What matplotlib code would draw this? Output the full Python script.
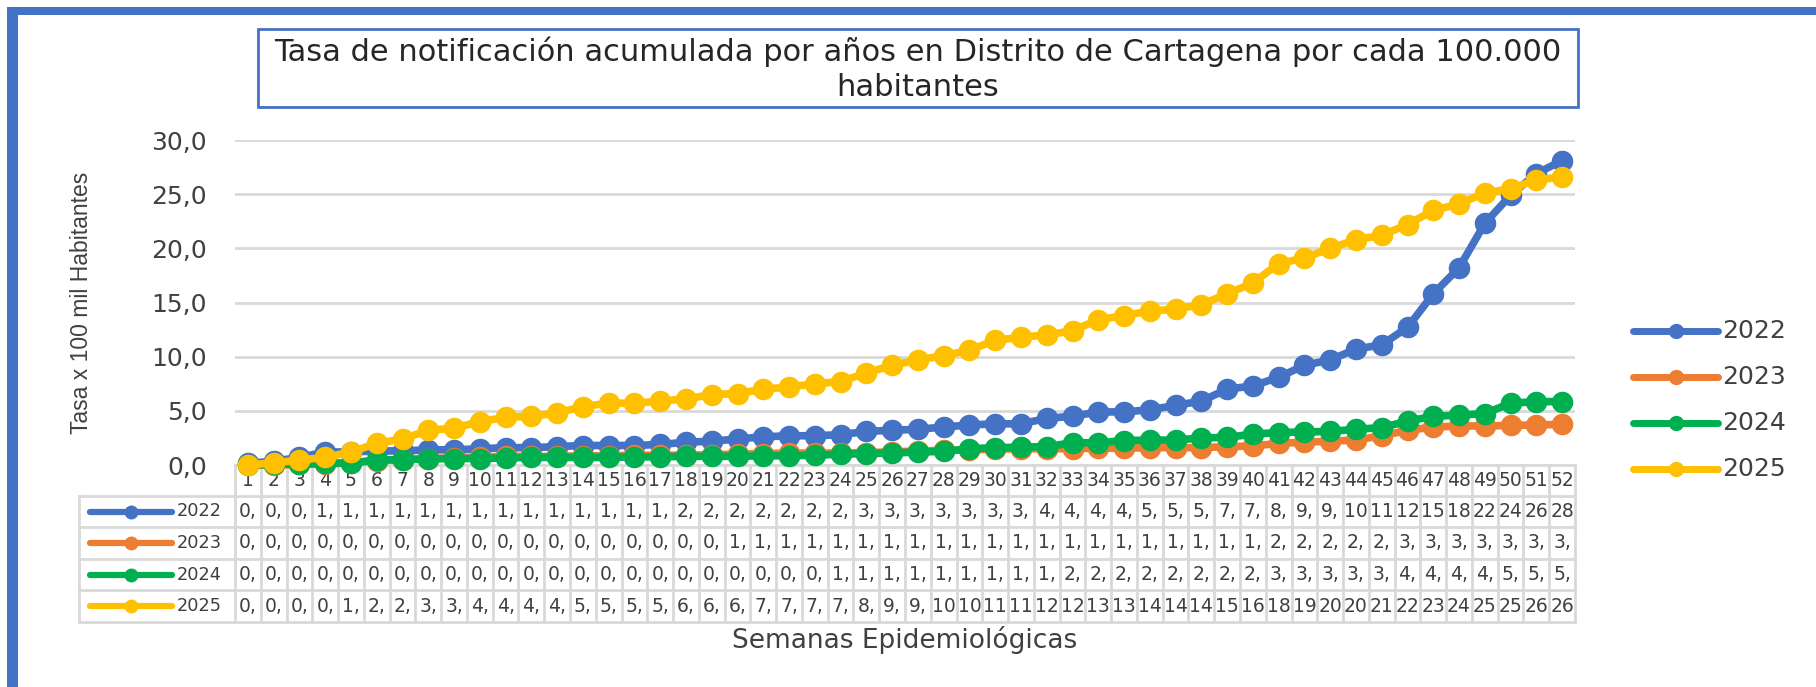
import matplotlib
matplotlib.use("Agg")
import matplotlib.pyplot as plt
import matplotlib.transforms as mtransforms
from matplotlib.lines import Line2D
from matplotlib.patches import Rectangle

# Datos: tasa acumulada x 100.000 hab. por semana epidemiológica
semanas = list(range(1, 53))
anios = ["2022", "2023", "2024", "2025"]
colores = ["#4472C4", "#ED7D31", "#00B050", "#FFC000"]

tasa_2022 = [0.15, 0.35, 0.7, 1.2, 1.2, 1.3, 1.3, 1.4, 1.4, 1.5, 1.6, 1.6, 1.7, 1.8, 1.8, 1.8,
             1.9, 2.1, 2.2, 2.4, 2.6, 2.7, 2.7, 2.8, 3.1, 3.2, 3.3, 3.5, 3.7, 3.8, 3.8, 4.3,
             4.5, 4.9, 4.9, 5.1, 5.5, 5.9, 7.0, 7.3, 8.1, 9.2, 9.7, 10.7, 11.1, 12.7, 15.8,
             18.2, 22.3, 24.9, 26.9, 28.1]
tasa_2023 = [0.0, 0.0, 0.05, 0.1, 0.2, 0.4, 0.5, 0.6, 0.65, 0.75, 0.8, 0.8, 0.8, 0.85, 0.85,
             0.9, 0.9, 0.9, 0.95, 1.0, 1.05, 1.1, 1.1, 1.1, 1.15, 1.2, 1.3, 1.35, 1.4, 1.45,
             1.5, 1.5, 1.5, 1.55, 1.55, 1.6, 1.6, 1.6, 1.7, 1.75, 2.0, 2.1, 2.2, 2.3, 2.7,
             3.2, 3.5, 3.6, 3.6, 3.65, 3.7, 3.75]
tasa_2024 = [0.0, 0.05, 0.1, 0.15, 0.2, 0.45, 0.5, 0.55, 0.6, 0.6, 0.65, 0.7, 0.7, 0.7, 0.7,
             0.75, 0.75, 0.8, 0.8, 0.8, 0.85, 0.85, 0.9, 1.0, 1.05, 1.1, 1.2, 1.25, 1.5, 1.6,
             1.65, 1.7, 2.05, 2.05, 2.25, 2.3, 2.3, 2.5, 2.55, 2.85, 3.0, 3.05, 3.1, 3.3,
             3.45, 4.05, 4.5, 4.6, 4.75, 5.7, 5.85, 5.85]
tasa_2025 = [0.0, 0.2, 0.45, 0.7, 1.2, 2.0, 2.4, 3.2, 3.4, 4.0, 4.4, 4.5, 4.8, 5.4, 5.7, 5.7,
             5.9, 6.1, 6.5, 6.6, 7.0, 7.2, 7.5, 7.7, 8.5, 9.2, 9.7, 10.1, 10.6, 11.5, 11.8,
             12.0, 12.4, 13.4, 13.8, 14.2, 14.4, 14.8, 15.8, 16.8, 18.6, 19.1, 20.0, 20.8,
             21.2, 22.2, 23.5, 24.1, 25.1, 25.5, 26.3, 26.6]
series = [tasa_2022, tasa_2023, tasa_2024, tasa_2025]

titulo = ["Tasa de notificación acumulada por años en Distrito de Cartagena por cada 100.000",
          "habitantes"]
y_ticks = [0, 5, 10, 15, 20, 25, 30]

W, H = 1816, 687
TXT = "#404040"
GRIS = "#D9D9D9"
AZUL = "#4472C4"


def fx(px):
    return px / W


def fy(py):
    return 1 - py / H


fig = plt.figure(figsize=(W / 100, H / 100), dpi=100)

# marco azul exterior
fig.add_artist(Rectangle((fx(7), 0), fx(11), fy(7), transform=fig.transFigure, color=AZUL, lw=0))
fig.add_artist(Rectangle((fx(7), fy(15)), 1, 8 / H, transform=fig.transFigure, color=AZUL, lw=0))

# area del grafico
x0, x1, ytop, ybot = 235, 1575, 140, 465
ax = fig.add_axes([fx(x0), fy(ybot), (x1 - x0) / W, (ybot - ytop) / H])

for i, (serie, color) in enumerate(zip(series, colores)):
    ax.plot(semanas, serie, color=color, lw=5.5, marker="o", ms=14.5, mec=color,
            zorder=3 + i, clip_on=False, solid_capstyle="round")

ax.set_xlim(0.5, 52.5)
ax.set_ylim(0, 30)
ax.set_xticks([])
ax.set_yticks(y_ticks)
ax.set_yticklabels([f"{v:.1f}".replace(".", ",") for v in y_ticks])
ax.tick_params(axis="y", length=0, labelsize=18, labelcolor=TXT, pad=20)
ax.yaxis.grid(True, color=GRIS, lw=2)
ax.set_axisbelow(True)
for s in ["top", "right", "left"]:
    ax.spines[s].set_visible(False)
ax.spines["bottom"].set_color(GRIS)
ax.spines["bottom"].set_linewidth(2)

# tabla de datos bajo el eje
alto = ybot - ytop


def ay(py):
    return (ybot - py) / alto


def axx(px):
    return (px - x0) / (x1 - x0)


trans = mtransforms.blended_transform_factory(ax.transData, ax.transAxes)
filas = [496, 527, 559, 590, 622]
lw_t = 2
fs_tabla = 13.5

for k in range(len(semanas) + 1):
    xb = semanas[0] - 0.5 + k
    ax.plot([xb, xb], [0, ay(filas[-1])], transform=trans, color=GRIS, lw=lw_t, clip_on=False)
for py in filas:
    ax.plot([axx(79), 1], [ay(py), ay(py)], transform=ax.transAxes, color=GRIS, lw=lw_t,
            clip_on=False)
ax.plot([axx(79), axx(79)], [ay(filas[0]), ay(filas[-1])], transform=ax.transAxes, color=GRIS,
        lw=lw_t, clip_on=False)

for s in semanas:
    ax.text(s, ay(481), str(s), transform=trans, ha="center", va="center", fontsize=fs_tabla,
            color=TXT, clip_on=False)

for r, (anio, serie, color) in enumerate(zip(anios, series, colores)):
    ym = ay((filas[r] + filas[r + 1]) / 2)
    for s, v in zip(semanas, serie):
        etiqueta = f"{v:.1f}".replace(".", ",")[:2]
        ax.text(s, ym, etiqueta, transform=trans, ha="center", va="center", fontsize=fs_tabla,
                color=TXT, clip_on=False)
    ax.add_line(Line2D([axx(90), axx(131), axx(172)], [ym, ym, ym], transform=ax.transAxes,
                       color=color, lw=4.5, marker="o", ms=9, markevery=[1],
                       solid_capstyle="round", clip_on=False))
    ax.text(axx(177), ym, anio, transform=ax.transAxes, ha="left", va="center", fontsize=12.8,
            color=TXT, clip_on=False)

# leyenda a la derecha
for anio, color, py in zip(anios, colores, [331, 377, 423, 469]):
    fig.add_artist(Line2D([fx(1633), fx(1676), fx(1718)], [fy(py)] * 3, transform=fig.transFigure,
                          color=color, lw=5, marker="o", ms=10, markevery=[1],
                          solid_capstyle="round"))
    fig.text(fx(1722), fy(py), anio, ha="left", va="center", fontsize=18, color=TXT)

# titulo en recuadro
fig.add_artist(Rectangle((fx(258), fy(107)), (1578 - 258) / W, (107 - 29) / H,
                         transform=fig.transFigure, fill=False, ec=AZUL, lw=2))
fig.text(fx(918), fy(52), titulo[0], ha="center", va="center", fontsize=22, color="#262626")
fig.text(fx(918), fy(87), titulo[1], ha="center", va="center", fontsize=22, color="#262626")

fig.text(fx(905), fy(640), "Semanas Epidemiológicas", ha="center", va="center", fontsize=19,
         color=TXT)
fig.text(fx(82), fy(303), "Tasa x 100 mil Habitantes", rotation=90, ha="center", va="center",
         fontsize=16.5, color=TXT, family=["Liberation Sans", "DejaVu Sans"])

fig.savefig("out.png", dpi=100)
